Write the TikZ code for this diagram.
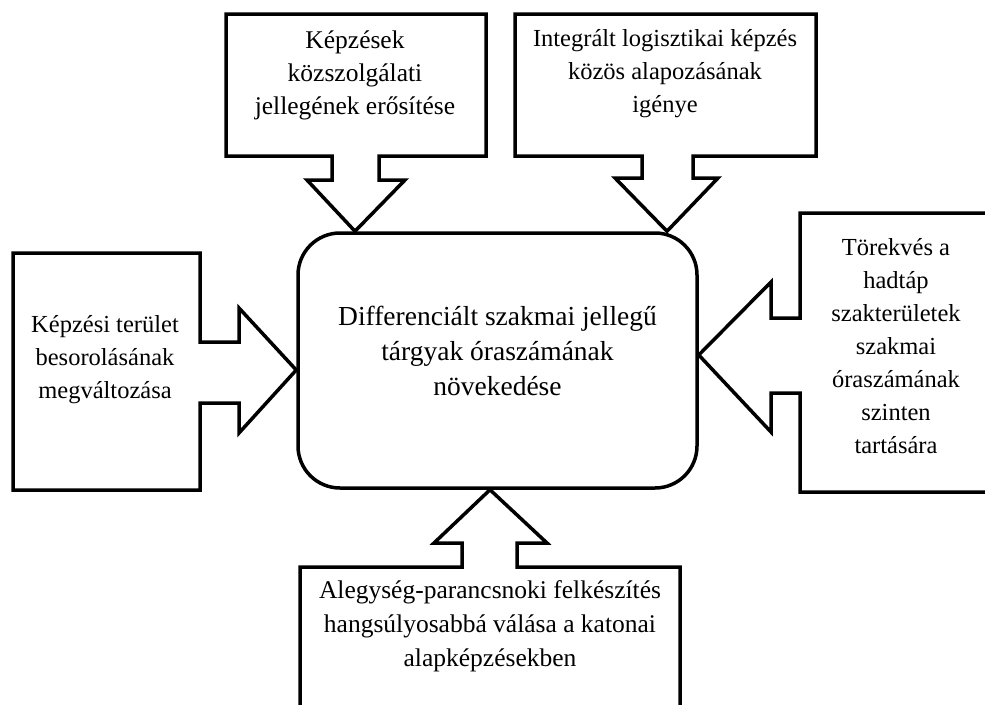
\documentclass[tikz,border=0pt]{standalone}
\usepackage{fontspec}
\setmainfont{Liberation Serif}
\usetikzlibrary{positioning}

\begin{document}
\begin{tikzpicture}[x=1pt,y=-1pt]
	% Fix the canvas to the size of the figure (y runs downwards).
	\useasboundingbox (0,0) rectangle (985,704);

	\tikzstyle{callout}=[draw=black,line width=3.5pt,line join=miter,fill=white]
	\tikzstyle{callout text}=[align=center,inner sep=0pt,font=\fontsize{24.5}{33}\selectfont]

	% The rounded box in the middle.
	\node [draw,line width=3.5pt,rounded corners=42pt,minimum width=399pt,minimum height=255pt] (ctr) at (497.5,360.5) {};
	\node [callout text,font=\fontsize{27.5}{35}\selectfont] (ctrtext) at ([yshift=10pt]ctr.center)
		{Differenciált szakmai jellegű\\tárgyak óraszámának\\növekedése};

	% Top left callout, its arrow points down onto the middle box.
	\draw [callout] (226,14) -- (486,14) -- (486,156) -- (379,156) -- (379,180) -- (405,180)
		-- (ctr.north -| 355,0) -- (307,180) -- (332,180) -- (332,156) -- (226,156) -- cycle;
	\node [callout text,font=\fontsize{25.5}{33}\selectfont] (kozszolg) at (355,75) {Képzések\\közszolgálati\\jellegének erősítése};

	% Top right callout.
	\draw [callout] (515,14) -- (816,14) -- (816,156) -- (693,156) -- (693,178) -- (718,178)
		-- (ctr.north -| 667,0) -- (615,178) -- (642,178) -- (642,156) -- (515,156) -- cycle;
	\node [callout text] (logiszt) at (665,74) {Integrált logisztikai képzés\\közös alapozásának\\igénye};

	% Left callout, pointing right.
	\draw [callout] (13,253) -- (200,253) -- (200,342) -- (239,342) -- (239,308)
		-- (ctr.west |- 0,370) -- (239,433) -- (239,403) -- (200,403) -- (200,490) -- (13,490) -- cycle;
	\node [callout text] (besorol) at (105,360) {Képzési terület\\besorolásának\\megváltozása};

	% Right callout, cut by the edge of the figure.
	\draw [callout] (995,213) -- (800,213) -- (800,318) -- (771,318) -- (771,282)
		-- (ctr.east |- 0,355) -- (771,432) -- (771,393) -- (800,393) -- (800,492) -- (995,492);
	\node [callout text] (hadtap) at (896,346) {Törekvés a\\hadtáp\\szakterületek\\szakmai\\óraszámának\\szinten\\tartására};

	% Bottom callout, pointing up.
	\draw [callout] (300,567) -- (462,567) -- (462,543) -- (434,543) -- (ctr.south -| 490,0)
		-- (547,543) -- (517,543) -- (517,567) -- (680,567) -- (680,712) -- (300,712) -- cycle;
	\node [callout text,font=\fontsize{25.5}{34}\selectfont] (alegys) at (490,626)
		{Alegység-parancsnoki felkészítés\\hangsúlyosabbá válása a katonai\\alapképzésekben};
\end{tikzpicture}
\end{document}
